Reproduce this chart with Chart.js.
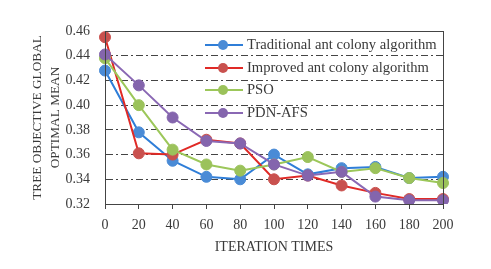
<!DOCTYPE html>
<html>
<head>
<meta charset="utf-8">
<script src="https://cdn.jsdelivr.net/npm/chart.js@4.4.0/dist/chart.umd.min.js"></script>
<style>
    html, body { margin: 0; padding: 0; background: #fff; }
    #wrap { width: 491px; height: 269px; }
</style>
</head>
<body>
<div id="wrap"><canvas id="convChart"></canvas></div>
<script>
// Iteration steps (x axis)
const iterations = ['0', '20', '40', '60', '80', '100', '120', '140', '160', '180', '200'];

// Series values
const traditionalAco = [0.428, 0.378, 0.355, 0.342, 0.340, 0.360, 0.344, 0.349, 0.350, 0.341, 0.342];
const improvedAco = [0.455, 0.361, 0.360, 0.372, 0.369, 0.340, 0.343, 0.335, 0.329, 0.324, 0.324];
const psoValues = [0.438, 0.400, 0.364, 0.352, 0.347, 0.352, 0.358, 0.346, 0.349, 0.341, 0.337];
const pdnAfs = [0.441, 0.416, 0.390, 0.371, 0.369, 0.352, 0.343, 0.346, 0.326, 0.323, 0.323];

const seriesNames = ['Traditional ant colony algorithm', 'Improved ant colony algorithm', 'PSO', 'PDN-AFS'];
const lineColors = ['#2f7ed8', '#e02a26', '#9cc75a', '#8a68b4'];
const markerColors = ['#4a8bd6', '#c9514e', '#9bc25b', '#8465ad'];

// y axis range / ticks
const yMin = 0.32;
const yMax = 0.46;
const yStep = 0.02;

const serifFont = "'Liberation Serif', 'DejaVu Serif', serif";
const textColor = '#3a3a3a';

// Legend drawn inside the plot area, top right
const insideLegend = {
    id: 'insideLegend',
    afterDraw: (chart) => {
        const ctx = chart.ctx;
        const area = chart.chartArea;
        const x0 = 205;
        const rows = [45, 68, 90, 113];
        ctx.save();
        chart.data.datasets.forEach((ds, i) => {
            const y = rows[i];
            ctx.beginPath();
            ctx.moveTo(x0, y);
            ctx.lineTo(x0 + 38, y);
            ctx.strokeStyle = ds.borderColor;
            ctx.lineWidth = 2;
            ctx.stroke();
            ctx.beginPath();
            ctx.arc(x0 + 18, y, 5, 0, Math.PI * 2);
            ctx.fillStyle = ds.pointBackgroundColor;
            ctx.fill();
            ctx.font = '14.6px ' + serifFont;
            ctx.fillStyle = textColor;
            ctx.textAlign = 'left';
            ctx.textBaseline = 'middle';
            ctx.fillText(ds.label, x0 + 42, y);
        });
        // box round the plot
        ctx.strokeStyle = '#444';
        ctx.lineWidth = 1;
        ctx.strokeRect(area.left + 0.5, area.top + 0.5, area.right - area.left, area.bottom - area.top);
        ctx.restore();
    }
};

function makeSet(i, values, order) {
    return {
        label: seriesNames[i],
        data: values,
        borderColor: lineColors[i],
        backgroundColor: markerColors[i],
        pointBackgroundColor: markerColors[i],
        pointBorderColor: markerColors[i],
        pointRadius: 5.5,
        pointBorderWidth: 1,
        borderWidth: 2,
        tension: 0,
        order: order
    };
}

const ctx = document.getElementById('convChart').getContext('2d');
const convChart = new Chart(ctx, {
    type: 'line',
    data: {
        labels: iterations,
        datasets: [
            makeSet(0, traditionalAco, 4),
            makeSet(1, improvedAco, 3),
            makeSet(2, psoValues, 2),
            makeSet(3, pdnAfs, 1)
        ]
    },
    options: {
        responsive: true,
        maintainAspectRatio: false,
        animation: false,
        layout: {
            padding: { top: 31, right: 48, left: 21, bottom: 10 }
        },
        scales: {
            x: {
                offset: false,
                afterFit: (scale) => { scale.height = 55; },
                grid: {
                    drawOnChartArea: false,
                    drawTicks: true,
                    tickLength: 5,
                    color: '#444'
                },
                border: { color: '#444', width: 1 },
                ticks: {
                    color: textColor,
                    padding: 8,
                    maxRotation: 0,
                    font: { family: serifFont, size: 14 }
                },
                title: {
                    display: true,
                    text: 'ITERATION TIMES',
                    color: textColor,
                    padding: { top: 0, bottom: 3 },
                    font: { family: serifFont, size: 14 }
                }
            },
            y: {
                min: yMin,
                max: yMax,
                afterFit: (scale) => { scale.width = 84; },
                grid: {
                    drawTicks: false,
                    color: (c) => (c.tick && (Math.abs(c.tick.value - yMin) < 1e-6 || Math.abs(c.tick.value - yMax) < 1e-6)) ? 'rgba(0,0,0,0)' : '#444',
                    lineWidth: 1
                },
                border: { color: '#444', width: 1, dash: [7, 3, 2, 3] },
                ticks: {
                    stepSize: yStep,
                    color: textColor,
                    padding: 15,
                    font: { family: serifFont, size: 14 },
                    callback: (v) => v.toFixed(2)
                },
                title: {
                    display: true,
                    text: ['TREE OBJECTIVE GLOBAL', 'OPTIMAL MEAN'],
                    color: textColor,
                    padding: { top: 8, bottom: 0 },
                    font: { family: serifFont, size: 13.3, lineHeight: 1.35 }
                }
            }
        },
        plugins: {
            legend: { display: false },
            tooltip: { enabled: false }
        }
    },
    plugins: [insideLegend]
});
</script>
</body>
</html>
